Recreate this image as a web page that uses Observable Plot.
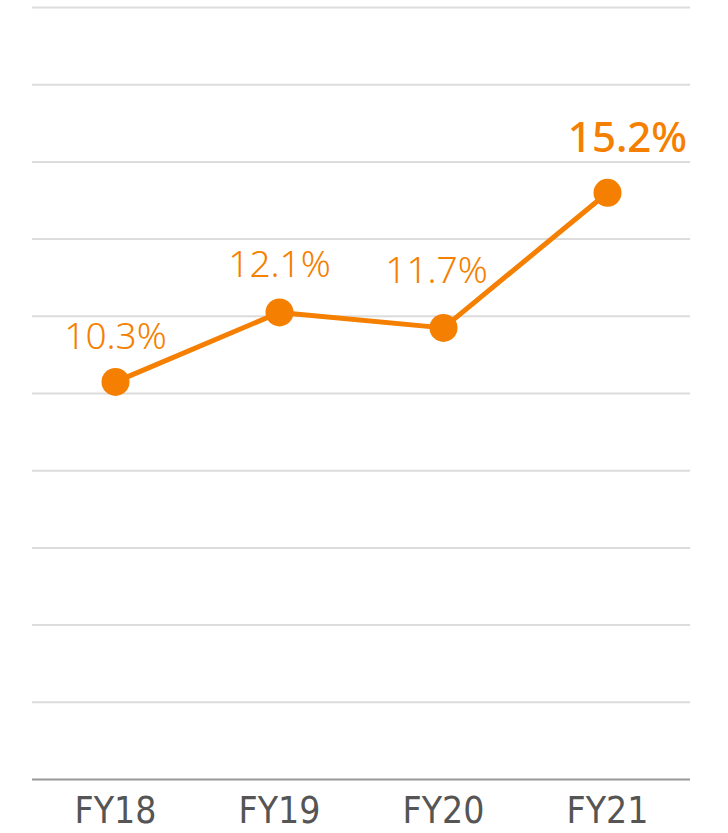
<!DOCTYPE html>
<html>
<head>
<meta charset="utf-8">
<script src="https://cdn.jsdelivr.net/npm/d3@7"></script>
<script src="https://cdn.jsdelivr.net/npm/@observablehq/plot@0.6"></script>
<style>
  html, body { margin: 0; padding: 0; background: #fff; }
  #chart svg { display: block; }
</style>
</head>
<body>
<div id="chart"></div>
<script>
const years = ["FY18", "FY19", "FY20", "FY21"];
const values = [10.3, 12.1, 11.7, 15.2];
const labels = ["10.3%", "12.1%", "11.7%", "15.2%"];
const gridTicks = [2, 4, 6, 8, 10, 12, 14, 16, 18, 20];

const data = years.map((y, i) => ({year: y, value: values[i], label: labels[i]}));
const orange = "#f57f00";
const labelFont = "'Noto Sans', 'Open Sans', sans-serif";

// per-label offsets (dx, dy, size, weight)
const labelStyle = [
  {dx: 0, dy: -45, size: 37, weight: 300},
  {dx: 0, dy: -47, size: 37, weight: 300},
  {dx: -7, dy: -57, size: 37, weight: 300},
  {dx: 20, dy: -54, size: 42, weight: 500}
];

const chart = Plot.plot({
  width: 728,
  height: 833,
  marginLeft: 32,
  marginRight: 38,
  marginTop: 7,
  marginBottom: 54,
  style: {background: "#fff"},
  x: {domain: years, type: "point", padding: 0.5, label: null},
  y: {domain: [0, 20], axis: null},
  marks: [
    Plot.ruleY(gridTicks, {stroke: "#dcdcdc", strokeWidth: 2}),
    Plot.ruleY([0], {stroke: "#999", strokeWidth: 2}),
    Plot.axisX({tickSize: 0, tickPadding: 0, dy: 17, fontSize: 37, fill: "#555", fontFamily: "'Liberation Sans Narrow', 'DejaVu Sans Condensed', sans-serif", label: null}),
    Plot.line(data, {x: "year", y: "value", stroke: orange, strokeWidth: 5}),
    Plot.dot(data, {x: "year", y: "value", r: 14, fill: orange}),
    ...data.map((d, i) => Plot.text([d], {
      x: "year", y: "value", text: "label",
      dx: labelStyle[i].dx, dy: labelStyle[i].dy,
      fill: orange, fontSize: labelStyle[i].size,
      fontFamily: labelFont, fontWeight: labelStyle[i].weight
    }))
  ]
});
document.getElementById("chart").appendChild(chart);
</script>
</body>
</html>
